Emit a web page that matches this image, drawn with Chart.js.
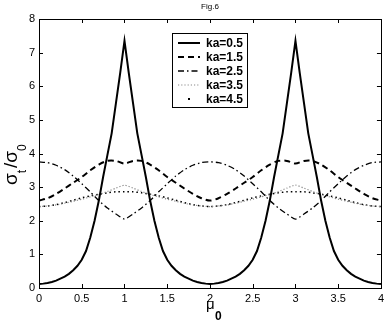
<!DOCTYPE html>
<html>
<head>
<meta charset="utf-8">
<script src="https://cdn.jsdelivr.net/npm/chart.js@4.4.1/dist/chart.umd.min.js"></script>
<style>
  html, body { margin: 0; padding: 0; background: #fff; }
  canvas { display: block; }
</style>
</head>
<body>
<canvas id="fig6" width="388" height="323"></canvas>
<script>
// mu_0 sample points (fine grid for ka=0.5, coarse grid for the rest)
const muFine = [0,0.05,0.1,0.15,0.2,0.25,0.3,0.35,0.4,0.45,0.5,0.55,0.6,0.65,0.7,0.75,0.8,0.85,0.9,0.95,
    1,1.05,1.1,1.15,1.2,1.25,1.3,1.35,1.4,1.45,1.5,1.55,1.6,1.65,1.7,1.75,1.8,1.85,1.9,1.95,
    2,2.05,2.1,2.15,2.2,2.25,2.3,2.35,2.4,2.45,2.5,2.55,2.6,2.65,2.7,2.75,2.8,2.85,2.9,2.95,
    3,3.05,3.1,3.15,3.2,3.25,3.3,3.35,3.4,3.45,3.5,3.55,3.6,3.65,3.7,3.75,3.8,3.85,3.9,3.95,4];
const mu = [0,0.1,0.2,0.3,0.4,0.5,0.6,0.7,0.8,0.9,1,1.1,1.2,1.3,1.4,1.5,1.6,1.7,1.8,1.9,
    2,2.1,2.2,2.3,2.4,2.5,2.6,2.7,2.8,2.9,3,3.1,3.2,3.3,3.4,3.5,3.6,3.7,3.8,3.9,4];

const ka05 = [0.12,0.13,0.15,0.18,0.22,0.28,0.34,0.42,0.53,0.66,0.84,1.1,1.5,2.0,2.6,3.3,3.95,4.6,5.5,6.4,7.35,
    6.4,5.5,4.6,3.95,3.3,2.6,2.0,1.5,1.1,0.84,0.66,0.53,0.42,0.34,0.28,0.22,0.18,0.15,0.13,0.12,
    0.13,0.15,0.18,0.22,0.28,0.34,0.42,0.53,0.66,0.84,1.1,1.5,2.0,2.6,3.3,3.95,4.6,5.5,6.4,7.35,
    6.4,5.5,4.6,3.95,3.3,2.6,2.0,1.5,1.1,0.84,0.66,0.53,0.42,0.34,0.28,0.22,0.18,0.15,0.13,0.12];
const ka15 = [2.60,2.67,2.80,2.96,3.13,3.30,3.50,3.67,3.78,3.78,3.70,
    3.78,3.78,3.67,3.50,3.30,3.13,2.96,2.80,2.67,2.60,
    2.67,2.80,2.96,3.13,3.30,3.50,3.67,3.78,3.78,3.70,
    3.78,3.78,3.67,3.50,3.30,3.13,2.96,2.80,2.67,2.60];
const ka25 = [3.75,3.73,3.65,3.52,3.33,3.10,2.86,2.60,2.38,2.20,2.05,
    2.20,2.38,2.60,2.86,3.10,3.33,3.52,3.65,3.73,3.75,
    3.73,3.65,3.52,3.33,3.10,2.86,2.60,2.38,2.20,2.05,
    2.20,2.38,2.60,2.86,3.10,3.33,3.52,3.65,3.73,3.75];
const ka35 = [2.42,2.44,2.47,2.52,2.58,2.64,2.71,2.78,2.87,2.97,3.06,
    2.97,2.87,2.78,2.71,2.64,2.58,2.52,2.47,2.44,2.42,
    2.44,2.47,2.52,2.58,2.64,2.71,2.78,2.87,2.97,3.06,
    2.97,2.87,2.78,2.71,2.64,2.58,2.52,2.47,2.44,2.42];
const ka45 = [2.42,2.44,2.48,2.54,2.61,2.68,2.74,2.79,2.83,2.86,2.86,
    2.86,2.83,2.79,2.74,2.68,2.61,2.54,2.48,2.44,2.42,
    2.44,2.48,2.54,2.61,2.68,2.74,2.79,2.83,2.86,2.86,
    2.86,2.83,2.79,2.74,2.68,2.61,2.54,2.48,2.44,2.42];

const seriesLabels = ['ka=0.5', 'ka=1.5', 'ka=2.5', 'ka=3.5', 'ka=4.5'];
const xTicks = [0, 0.5, 1, 1.5, 2, 2.5, 3, 3.5, 4];
const yTicks = [0, 1, 2, 3, 4, 5, 6, 7, 8];

const FONT = '"Liberation Sans", Arial, sans-serif';

function pts(xs, ys) {
    return xs.map((x, i) => ({ x: x, y: ys[i] }));
}

// matlab style box, inward ticks, legend and axis titles
const figDecor = {
    id: 'figDecor',
    afterDraw(chart) {
        const ctx = chart.ctx;
        const a = chart.chartArea;
        const xs = chart.scales.x, ys = chart.scales.y;
        ctx.save();
        ctx.strokeStyle = '#000';
        ctx.lineWidth = 1;
        ctx.setLineDash([]);
        ctx.strokeRect(Math.round(a.left) + 0.5, Math.round(a.top) + 0.5,
            Math.round(a.right - a.left), Math.round(a.bottom - a.top));
        ctx.beginPath();
        xTicks.forEach(t => {
            const px = Math.round(xs.getPixelForValue(t)) + 0.5;
            ctx.moveTo(px, a.bottom); ctx.lineTo(px, a.bottom - 4);
            ctx.moveTo(px, a.top); ctx.lineTo(px, a.top + 4);
        });
        yTicks.forEach(t => {
            const py = Math.round(ys.getPixelForValue(t)) + 0.5;
            ctx.moveTo(a.left, py); ctx.lineTo(a.left + 4, py);
            ctx.moveTo(a.right, py); ctx.lineTo(a.right - 4, py);
        });
        ctx.stroke();

        // legend
        const lx = 172, ly = 33, lw = 75, lh = 74;
        ctx.fillStyle = '#fff';
        ctx.fillRect(lx, ly, lw, lh);
        ctx.strokeRect(lx + 0.5, ly + 0.5, lw, lh);
        ctx.font = 'bold 12px ' + FONT;
        ctx.textBaseline = 'middle';
        ctx.textAlign = 'left';
        chart.data.datasets.forEach((ds, i) => {
            const yy = ly + 10 + i * 14;
            ctx.strokeStyle = ds.borderColor;
            ctx.fillStyle = ds.borderColor;
            if (ds.legendDot) {
                ctx.fillRect(188, yy - 1, 2, 2);
            } else {
                ctx.lineWidth = ds.borderWidth;
                ctx.setLineDash(ds.borderDash || []);
                ctx.beginPath();
                ctx.moveTo(178, yy);
                ctx.lineTo(200, yy);
                ctx.stroke();
            }
            ctx.fillStyle = '#000';
            ctx.fillText(ds.label, 206, yy + 0.5);
        });
        ctx.setLineDash([]);

        // title
        ctx.fillStyle = '#000';
        ctx.font = '8px ' + FONT;
        ctx.textAlign = 'center';
        ctx.fillText('Fig.6', 210, 7);

        // x axis title: mu_0
        ctx.textAlign = 'left';
        ctx.textBaseline = 'alphabetic';
        ctx.font = '15px ' + FONT;
        ctx.fillText('\u03bc', 206, 309);
        ctx.font = 'bold 12px ' + FONT;
        ctx.fillText('0', 215, 320);

        // y axis title: sigma_t / sigma_0, pieces chained with measureText
        ctx.translate(17, 185);
        ctx.rotate(-Math.PI / 2);
        const parts = [
            ['\u03c3', '19px', 0],
            ['t', '12px', 9],
            ['/', '19px', 0],
            ['\u03c3', '19px', 0],
            ['0', '12px', 9]
        ];
        let cx = 0;
        parts.forEach(p => {
            ctx.font = p[1] + ' ' + FONT;
            ctx.fillText(p[0], cx, p[2]);
            cx += ctx.measureText(p[0]).width + (p[0] === 't' ? 2 : 0);
        });
        ctx.restore();
    }
};

new Chart(document.getElementById('fig6'), {
    type: 'line',
    data: {
        datasets: [
            {
                label: seriesLabels[0],
                data: pts(muFine, ka05),
                borderColor: '#000',
                borderWidth: 2,
                tension: 0
            },
            {
                label: seriesLabels[1],
                data: pts(mu, ka15),
                borderColor: '#000',
                borderWidth: 2,
                borderDash: [6, 4],
                tension: 0.3
            },
            {
                label: seriesLabels[2],
                data: pts(mu, ka25),
                borderColor: '#000',
                borderWidth: 1.3,
                borderDash: [6, 3, 1.5, 3],
                tension: 0.2
            },
            {
                label: seriesLabels[3],
                data: pts(mu, ka35),
                borderColor: '#8a8a8a',
                borderWidth: 1.2,
                borderDash: [1.2, 2],
                tension: 0.2
            },
            {
                label: seriesLabels[4],
                data: pts(mu, ka45),
                borderColor: '#000',
                borderWidth: 1.5,
                borderDash: [1.5, 3],
                tension: 0.3,
                legendDot: true
            }
        ]
    },
    options: {
        responsive: false,
        animation: false,
        events: [],
        elements: { point: { radius: 0 } },
        layout: { padding: { left: 0, right: 7, top: 19, bottom: 0 } },
        plugins: {
            legend: { display: false },
            tooltip: { enabled: false },
            title: { display: false }
        },
        scales: {
            x: {
                type: 'linear',
                min: 0,
                max: 4,
                afterFit: s => { s.height = 35; },
                afterBuildTicks: s => { s.ticks = xTicks.map(v => ({ value: v })); },
                grid: { display: false, drawTicks: false },
                border: { display: false },
                ticks: {
                    color: '#000',
                    padding: 4,
                    maxRotation: 0,
                    callback: v => String(v),
                    font: { family: FONT, size: 11 }
                }
            },
            y: {
                min: 0,
                max: 8,
                afterFit: s => { s.width = 39; },
                afterBuildTicks: s => { s.ticks = yTicks.map(v => ({ value: v })); },
                grid: { display: false, drawTicks: false },
                border: { display: false },
                ticks: {
                    color: '#000',
                    padding: 4,
                    callback: v => String(v),
                    font: { family: FONT, size: 11 }
                }
            }
        }
    },
    plugins: [figDecor]
});
</script>
</body>
</html>
